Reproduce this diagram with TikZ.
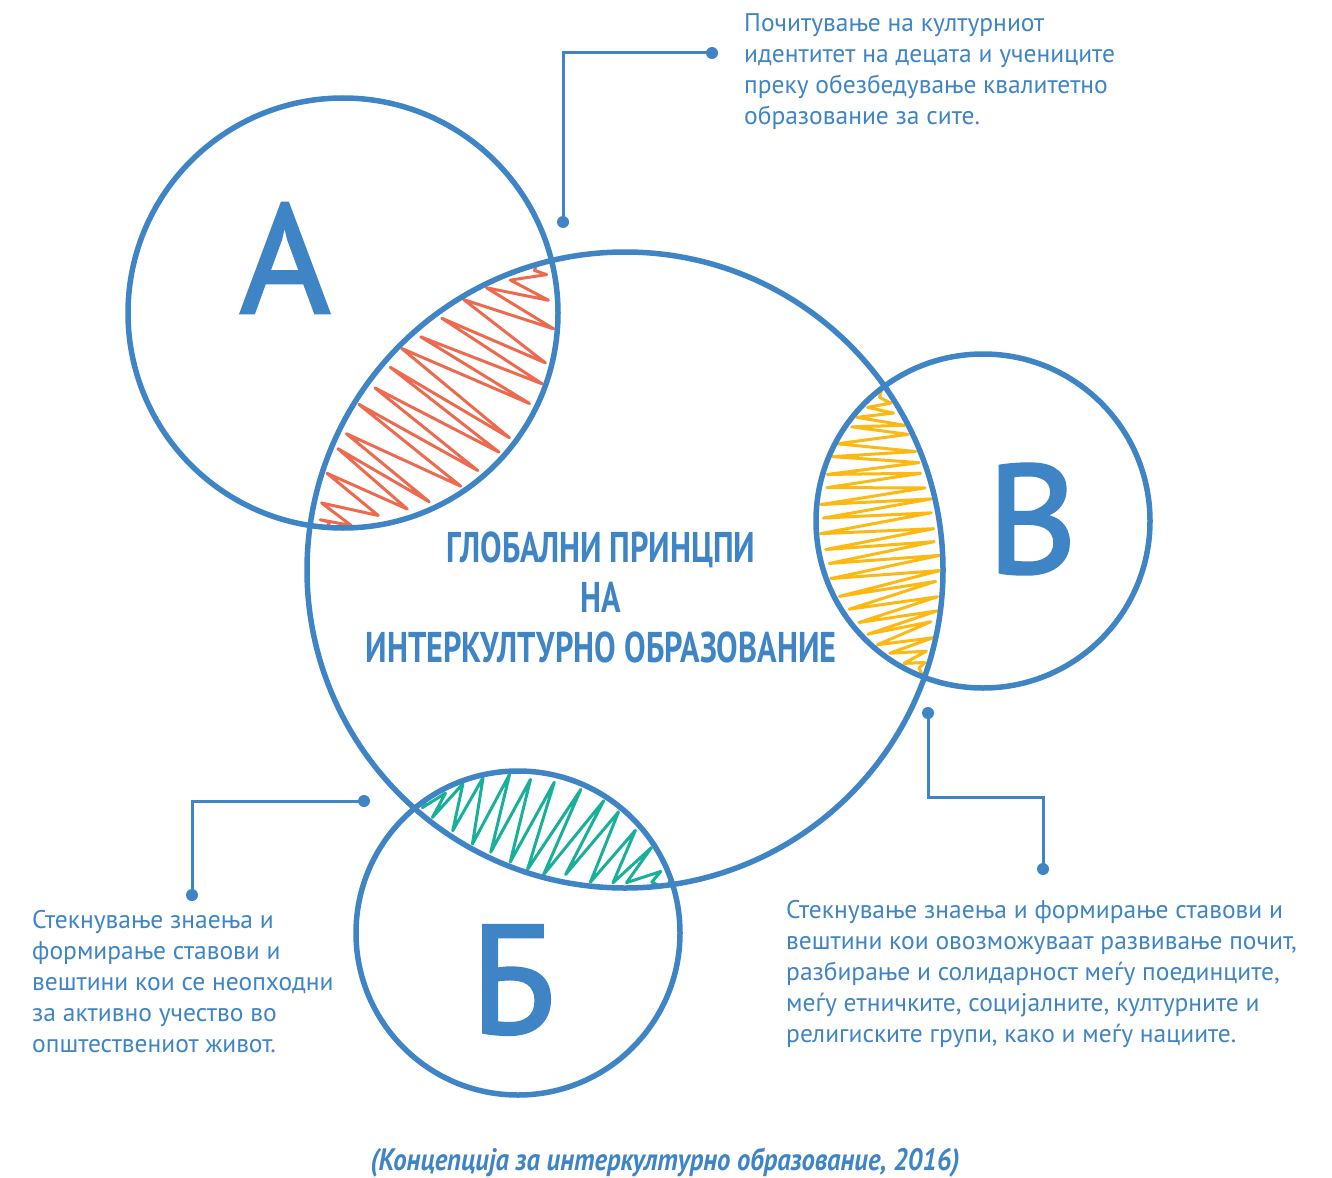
\documentclass[tikz,border=0pt]{standalone}
\usepackage{fontspec}
\setmainfont{PT Sans}
\newfontfamily\titlefont[FakeStretch=0.75]{PT Sans}
\newfontfamily\sourcefont[FakeStretch=0.86]{PT Sans}
\newfontfamily\letterfont[FakeBold=2]{PT Sans}
\definecolor{diagblue}{HTML}{3F84C5}
\definecolor{hatchred}{HTML}{EE6A4F}
\definecolor{hatchyellow}{HTML}{FDB913}
\definecolor{hatchteal}{HTML}{19B09B}

\begin{document}
\begin{tikzpicture}[x=1pt, y=-1pt,
    ring/.style={diagblue, line width=5.5pt},
    hatch/.style={line width=3pt, line join=round, line cap=round},
    leader/.style={diagblue, line width=3pt},
    dot/.style={circle, fill=diagblue, inner sep=0pt, minimum size=12pt},
    note/.style={diagblue, font=\fontsize{25.5}{31}\selectfont, align=left, anchor=base west, inner sep=0pt},
    letter/.style={diagblue, font=\letterfont\fontsize{154}{154}\selectfont, inner sep=0pt}]
    \useasboundingbox (0,0) rectangle (1332,1177);

    \coordinate (cA) at (343,313);
    \coordinate (cG) at (625,570);
    \coordinate (cV) at (983,521);
    \coordinate (cB) at (518,933);

    \pgfmathsetseed{12}
    % red lens
    \begin{scope}
    \clip (cA) circle (215);
    \clip (cG) circle (318);
    \draw[hatch, hatchred] ([shift={(cG)}]xy polar cs:angle={188.3-68.5/15},radius=315)
      \foreach \i in {0,...,15}{
        -- ([shift={(cA)}]xy polar cs:angle={97.5-111.15*(\i+0.5+0.4*(rnd-0.5))/15},radius={213-8*rnd})
        -- ([shift={(cG)}]xy polar cs:angle={188.3+68.5*(\i+0.4*(rnd-0.5))/15},radius={316-8*rnd})
      };
    \end{scope}
    % yellow lens
    \begin{scope}
    \clip (cV) circle (167);
    \clip (cG) circle (318);
    \draw[hatch, hatchyellow] ([shift={(cG)}]xy polar cs:angle=-35.3,radius=315)
      \foreach \i in {1,...,22}{
        -- ([shift={(cV)}]xy polar cs:angle={233.9-123.3*(\i-0.5+0.4*(rnd-0.5))/22},radius={165-6*rnd})
        -- ([shift={(cG)}]xy polar cs:angle={-35.3+55.06*(\i+0.4*(rnd-0.5))/22},radius={316-6*rnd})
      };
    \end{scope}
    % teal lens
    \begin{scope}
    \clip (cB) circle (162);
    \clip (cG) circle (318);
    \draw[hatch, hatchteal] ([shift={(cG)}]xy polar cs:angle={131.4+50/13},radius=315)
      \foreach \i in {0,...,13}{
        -- ([shift={(cB)}]xy polar cs:angle={230.3+112.3*(\i+0.3+0.4*(rnd-0.5))/13},radius={160-6*rnd})
        -- ([shift={(cG)}]xy polar cs:angle={131.4-50*(\i+0.4*(rnd-0.5))/13},radius={316-6*rnd})
      };
    \end{scope}

    \draw[ring] (cA) circle (215);
    \draw[ring] (cG) circle (318);
    \draw[ring] (cV) circle (167);
    \draw[ring] (cB) circle (162);

    \node[letter] (letA) at (285,258) {А};
    \node[letter] (letV) at (1032,519) {В};
    \node[letter] (letB) at (513,980) {Б};

    \node[diagblue, align=center, inner sep=0pt, font=\titlefont\bfseries\fontsize{43}{50}\selectfont]
      (title) at (601,597) {ГЛОБАЛНИ ПРИНЦПИ\\НА\\ИНТЕРКУЛТУРНО ОБРАЗОВАНИЕ};

    % leaders
    \node[dot] (d1) at (563,222) {};
    \node[dot] (d1e) at (712,53) {};
    \draw[leader] (d1.center) |- (d1e.center);

    \node[dot] (d2) at (928,713) {};
    \node[dot] (d2e) at (1043,869) {};
    \coordinate (k2) at (985,797);
    \draw[leader] (d2.center) |- (k2) -| (d2e.center);

    \node[dot] (d3) at (364,801) {};
    \node[dot] (d3e) at (192,895) {};
    \draw[leader] (d3.center) -| (d3e.center);

    \node[note] (noteA) at (744,125) {Почитување на културниот\\идентитет на децата и учениците\\преку обезбедување квалитетно\\образование за сите.};
    \node[note] (noteB) at (32,1052) {Стекнување знаења и\\формирање ставови и\\вештини кои се неопходни\\за активно учество во\\општествениот живот.};
    \node[note] (noteV) at (786,1042) {Стекнување знаења и формирање ставови и\\вештини кои овозможуваат развивање почит,\\разбирање и солидарност меѓу поединците,\\меѓу етничките, социјалните, културните и\\религиските групи, како и меѓу нациите.};

    \node[diagblue, inner sep=0pt, font=\sourcefont\bfseries\itshape\fontsize{31}{31}\selectfont]
      (source) at (665,1163) {(Концепција за интеркултурно образование, 2016)};
\end{tikzpicture}
\end{document}
